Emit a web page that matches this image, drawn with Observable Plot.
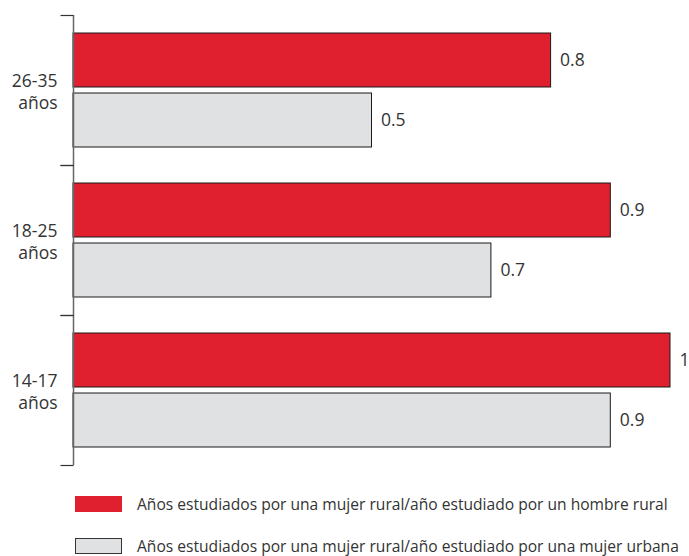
<!DOCTYPE html>
<html><head><meta charset="utf-8">
<script src="https://cdn.jsdelivr.net/npm/d3@7"></script>
<script src="https://cdn.jsdelivr.net/npm/@observablehq/plot@0.6"></script>
<style>
body{margin:0;background:#fff;font-family:"Open Sans",sans-serif;color:#333;}
#chart svg{display:block;}
.legend{position:relative;height:76px;}
.row{position:absolute;left:75px;display:flex;align-items:center;height:16px;font-size:15.6px;white-space:nowrap;}
.sw{display:inline-block;width:47px;height:16px;box-sizing:border-box;margin-right:15px;}
</style></head><body><div id="chart"></div><div class="legend" id="legend"></div>
<script>
const groups = ["26-35\naños", "18-25\naños", "14-17\naños"];
const seriesNames = [
  "Años estudiados por una mujer rural/año estudiado por un hombre rural",
  "Años estudiados por una mujer rural/año estudiado por una mujer urbana"
];
const ruralVsHombre = [0.8, 0.9, 1];
const ruralVsUrbana = [0.5, 0.7, 0.9];
const colors = ["#e01f2f", "#e0e1e3"];
const swatchBorders = ["none", "1px solid #333"];

const data = groups.flatMap((g, i) => [
  {group: g, series: seriesNames[0], value: ruralVsHombre[i]},
  {group: g, series: seriesNames[1], value: ruralVsUrbana[i]}
]);

const tickSymbol = {draw(ctx) { ctx.moveTo(-13, 0); ctx.lineTo(0, 0); }};

const plot = Plot.plot({
  width: 689, height: 480,
  marginTop: 15, marginBottom: 15, marginLeft: 73, marginRight: 19,
  x: {domain: [0, 1], axis: null},
  y: {domain: seriesNames, paddingInner: 0.1, paddingOuter: 0.3, axis: null},
  fy: {domain: groups, padding: 0, label: null},
  color: {domain: seriesNames, range: colors},
  style: {fontFamily: "Open Sans", fontSize: "17px", color: "#333", overflow: "visible"},
  marks: [
    Plot.axisFy({anchor: "left", tickSize: 0, tickPadding: 16, fontSize: 17.5, lineHeight: 1.26, label: null, fill: "#333"}),
    Plot.barX(data, {x: "value", y: "series", fy: "group", fill: "series", stroke: "#1a1a1a", strokeWidth: 1}),
    Plot.text(data, {x: "value", y: "series", fy: "group", text: d => String(d.value), textAnchor: "start", dx: 9, fontSize: 17.5, fill: "#333"}),
    Plot.ruleX([0], {stroke: "#666", strokeWidth: 1.5}),
    Plot.dot([0], {frameAnchor: "top-left", symbol: tickSymbol, stroke: "#333", strokeWidth: 1.2}),
    Plot.dot([0], {frameAnchor: "bottom-left", symbol: tickSymbol, stroke: "#333", strokeWidth: 1.2})
  ]
});
document.getElementById("chart").appendChild(plot);

const legend = document.getElementById("legend");
seriesNames.forEach((name, i) => {
  const row = document.createElement("div");
  row.className = "row";
  row.style.top = (16 + i * 42) + "px";
  const sw = document.createElement("span");
  sw.className = "sw";
  sw.style.background = colors[i];
  sw.style.border = swatchBorders[i];
  const t = document.createElement("span");
  t.textContent = name;
  row.appendChild(sw); row.appendChild(t);
  legend.appendChild(row);
});
</script></body></html>
